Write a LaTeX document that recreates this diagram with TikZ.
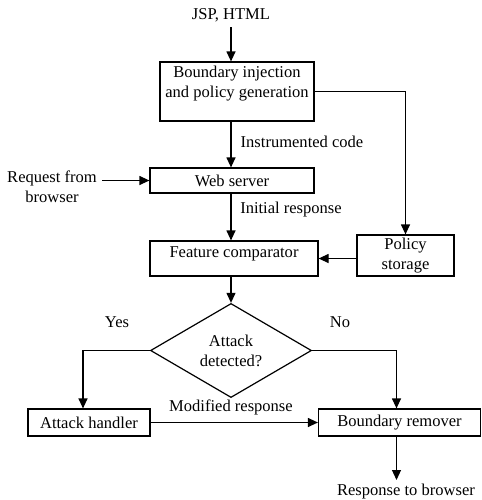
\documentclass[tikz,border=0pt]{standalone}
\usepackage{fontspec}
\setmainfont{Liberation Serif}
\usetikzlibrary{arrows.meta,shapes.geometric}
\begin{document}
\begin{tikzpicture}[x=0.75pt,y=-0.75pt,
  every node/.style={font=\fontsize{12.4}{15}\selectfont},
  box/.style={draw,line width=0.9pt,inner sep=0pt,align=center},
  lbl/.style={inner sep=0pt,align=center},
  arr/.style={line width=0.9pt,-{Triangle[length=7.5pt,width=6.75pt]}},
  ln/.style={line width=0.9pt}]
\useasboundingbox (0,0) rectangle (482,500);
\coordinate (axis) at (231,0);
\coordinate (yesx) at (83,0);
\coordinate (nox) at (396.5,0);
\coordinate (rend) at (396.5,480);
% nodes
\node[lbl] (jsp) at (231,15) {JSP, HTML};
\node[box,minimum width=115.5pt,minimum height=44.25pt] (b1) at (237,91.5) {};
\node[lbl] (b1t) at (237,84) {Boundary injection\\and policy generation};
\node[lbl] (ic) at (302,142) {Instrumented code};
\node[box,minimum width=123pt,minimum height=18.75pt] (ws) at (232,180.5) {Web server};
\node[lbl] (req) at (52,187) {Request from\\browser};
\node[lbl] (ir) at (291,210) {Initial response};
\node[box,minimum width=126pt,minimum height=26.25pt] (fc) at (234,258.5) {};
\node[lbl] (fct) at (234,254) {Feature comparator};
\node[box,minimum width=72.75pt,minimum height=30.75pt] (ps) at (405.5,255.5) {Policy\\storage};
\node[draw,line width=0.9pt,diamond,inner sep=0pt,minimum width=120.75pt,minimum height=56.25pt,align=center] (d) at (231,350.5) {Attack\\detected?};
\node[lbl] (yes) at (117,322) {Yes};
\node[lbl] (no) at (340,322) {No};
\node[box,minimum width=91.5pt,minimum height=20.25pt] (ah) at (89,422.5) {Attack handler};
\node[box,minimum width=121.5pt,minimum height=20.25pt] (br) at (399.5,422.5) {Boundary remover};
\node[lbl] (mr) at (231,407) {Modified response};
\node[lbl] (rb) at (406,492) {Response to browser};
% connectors
\draw[arr] ([yshift=-4pt]jsp.south) -- (jsp.south |- b1.north);
\draw[arr] (b1.south -| axis) -- (ws.north -| axis);
\draw[arr] ([xshift=4pt]req.east |- ws.west) -- (ws.west);
\draw[arr] (ws.south -| axis) -- (fc.north -| axis);
\draw[arr] (b1.east) -| (ps.north);
\draw[arr] (ps.west |- fc.east) -- (fc.east);
\draw[arr] (fc.south -| axis) -- (d.north);
\draw[arr] (d.west) -| (ah.north -| yesx);
\draw[arr] (d.east) -| (br.north -| nox);
\draw[arr] (ah.east) -- (br.west |- ah.east);
\draw[arr] (br.south -| nox) -- (rend);
\end{tikzpicture}
\end{document}
